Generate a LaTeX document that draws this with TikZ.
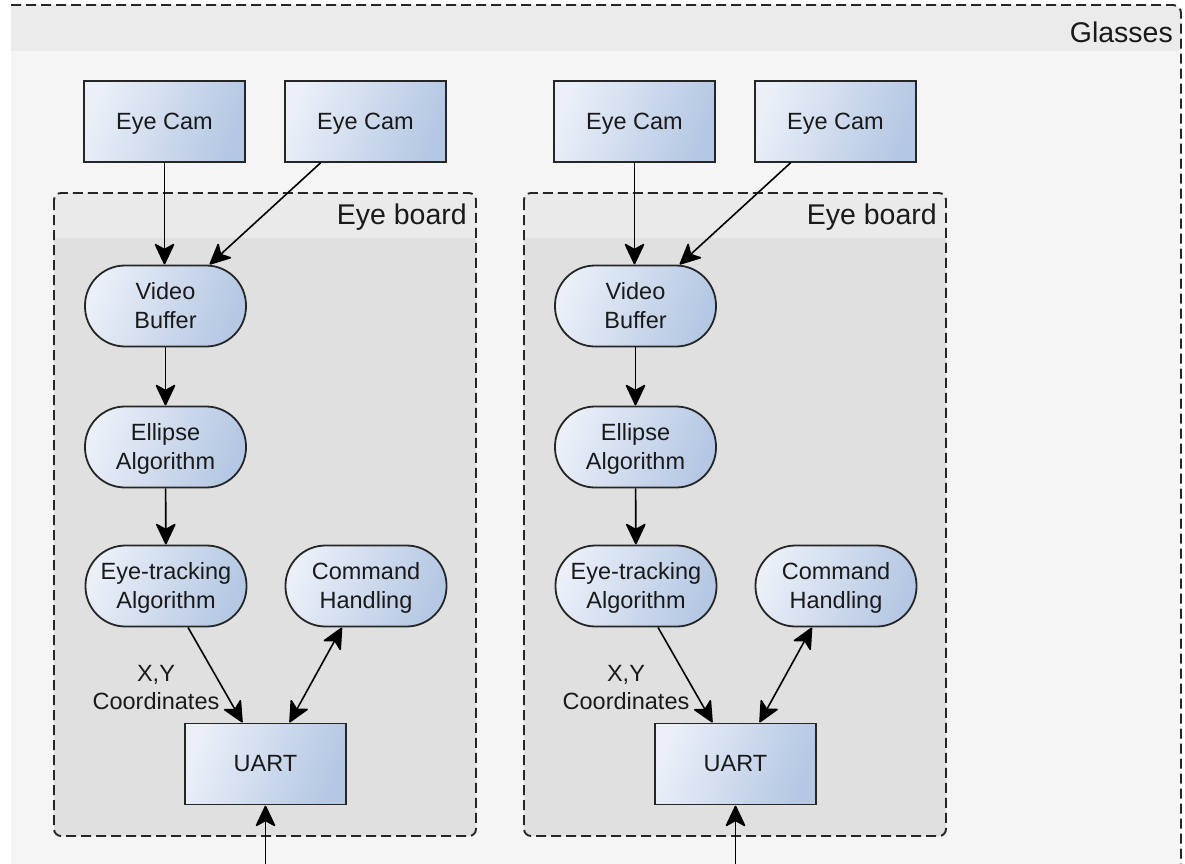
\documentclass[tikz,border=0pt]{standalone}
\usepackage{fontspec}
\setmainfont{Liberation Sans}
\usetikzlibrary{arrows.meta,calc}

\definecolor{txt}{HTML}{1A1A1A}
\definecolor{edge}{HTML}{262626}
\definecolor{outerbg}{HTML}{F5F5F5}
\definecolor{outerhd}{HTML}{EBEBEB}
\definecolor{boardbg}{HTML}{E0E0E0}
\definecolor{boardhd}{HTML}{EAEAEA}
\definecolor{nodelo}{HTML}{EAEFF8}
\definecolor{nodehi}{HTML}{B4C7E3}

\pgfarrowsdeclare{fathead}{fathead}
{\pgfarrowsleftextend{-1pt}\pgfarrowsrightextend{1pt}}
{
  \pgfsetdash{}{0pt}
  \pgfsetroundjoin
  \pgfpathmoveto{\pgfpoint{1pt}{0pt}}
  \pgfpathlineto{\pgfpoint{-18pt}{9pt}}
  \pgfpathlineto{\pgfpoint{-13pt}{0pt}}
  \pgfpathlineto{\pgfpoint{-18pt}{-9pt}}
  \pgfpathclose
  \pgfusepathqfillstroke
}

\tikzset{
  unit/.style={draw=edge, line width=1.8pt, left color=nodelo, right color=nodehi,
    shading angle=70,
    minimum width=161pt, minimum height=81pt, inner sep=0pt, align=center,
    font=\fontsize{23.5}{29}\selectfont, text=txt, text depth=1pt},
  blockbox/.style={unit},
  procbox/.style={unit, rounded corners=40pt},
  flow/.style={draw=black, line width=1.6pt, -fathead, shorten >=1pt},
  flowboth/.style={draw=black, line width=1.6pt, fathead-fathead, shorten >=1pt, shorten <=1pt},
  frame/.style={draw=edge, line width=1.9pt, dash pattern=on 10pt off 5pt},
  caption/.style={font=\fontsize{28.5}{34}\selectfont, text=txt, inner sep=0pt},
  tag/.style={font=\fontsize{23.5}{28}\selectfont, text=txt, align=center, inner sep=0pt}
}

\begin{document}
\begin{tikzpicture}[x=1pt,y=-1pt]
\useasboundingbox (0,0) rectangle (1185,864);
\fill[white] (0,0) rectangle (1185,864);

% Glasses container (runs past the lower edge)
\fill[outerbg] (11,5) -- (1173,5) arc[start angle=-90,end angle=0,radius=8] -- (1181,900) -- (11,900) -- cycle;
\fill[outerhd] (11,5) -- (1173,5) arc[start angle=-90,end angle=0,radius=8] -- (1181,51) -- (11,51) -- cycle;
\draw[frame] (11,5) -- (1173,5) arc[start angle=-90,end angle=0,radius=8] -- (1181,900);
\node[caption, anchor=east] (glasses) at (1173,32) {Glasses};

% one eye board per side
\foreach \dx/\s in {0/L, 470/R} {
  \begin{scope}[xshift=\dx]
    \fill[boardbg, rounded corners=7pt] (54,193) rectangle (476,836);
    \begin{scope}
      \clip (40,180) rectangle (490,237);
      \fill[boardhd, rounded corners=7pt] (54,193) rectangle (476,836);
    \end{scope}
    \draw[frame, rounded corners=7pt] (54,193) rectangle (476,836);
    \node[caption, anchor=east] (board\s) at (467,217) {Eye board};

    \node[blockbox] (camA\s) at (164.5,121.5) {Eye Cam};
    \node[blockbox] (camB\s) at (365.5,121.5) {Eye Cam};
    \node[procbox] (buf\s) at (165.5,306) {Video\\Buffer};
    \node[procbox] (ell\s) at (165.5,447) {Ellipse\\Algorithm};
    \node[procbox] (trk\s) at (166,586) {Eye-tracking\\Algorithm};
    \node[procbox] (cmd\s) at (366,586) {Command\\Handling};
    \node[blockbox] (uart\s) at (265.5,764) {UART};
    \node[tag] (xy\s) at (156,688) {X,Y\\Coordinates};
    \coordinate (feed\s) at (265.5,880);

    \draw[flow] (camA\s.south) -- (camA\s.south |- buf\s.north);
    \draw[flow] ($(camB\s.south)+(-45,0)$) -- ($(buf\s.north)+(44,0)$);
    \draw[flow] (buf\s) -- (ell\s);
    \draw[flow] (ell\s) -- (trk\s);
    \draw[flow] ($(trk\s.south)+(22,0)$) -- ($(uart\s.north)+(-23,0)$);
    \draw[flowboth] ($(uart\s.north)+(24,0)$) -- ($(cmd\s.south)+(-24,0)$);
    \draw[flow] (feed\s) -- (uart\s.south);
  \end{scope}
}
\end{tikzpicture}
\end{document}
